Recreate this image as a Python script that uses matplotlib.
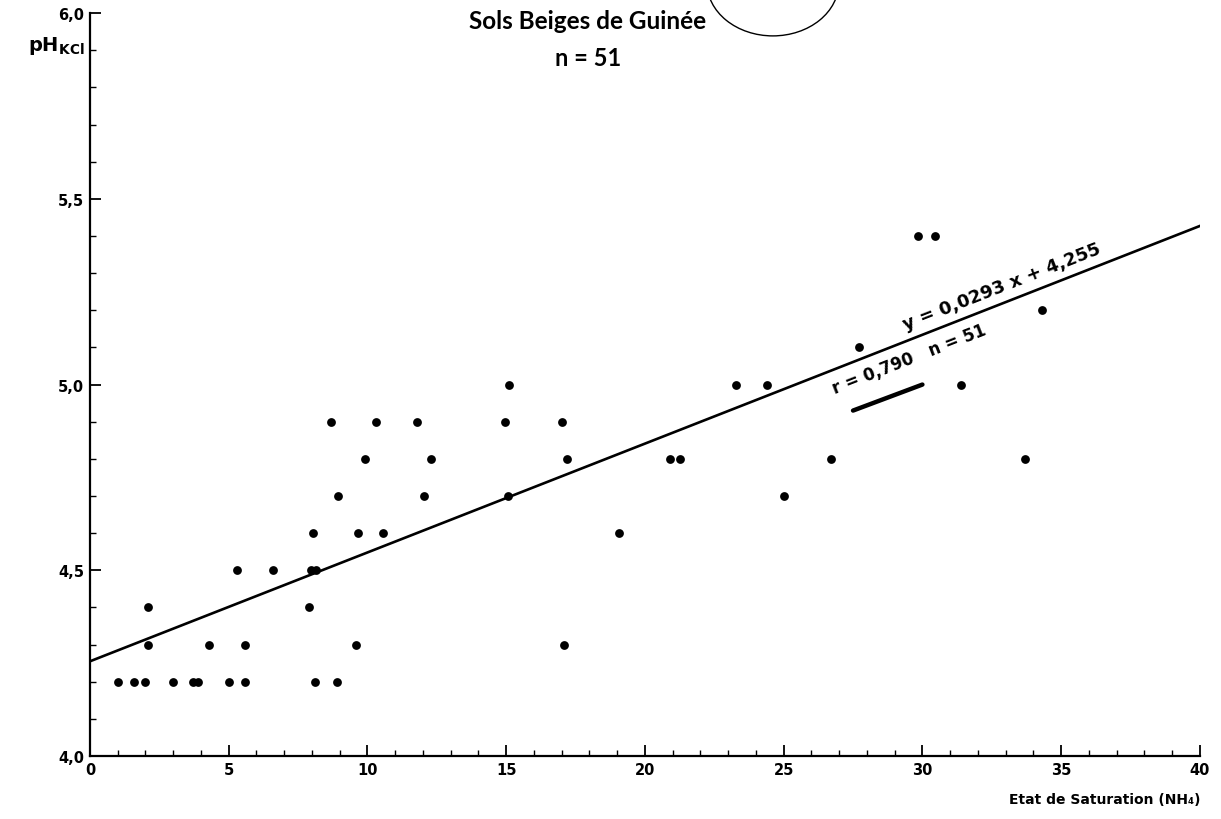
import math

import numpy as np
import matplotlib
matplotlib.use('Agg')
import matplotlib.pyplot as plt
from matplotlib.patches import Ellipse
from matplotlib.ticker import MultipleLocator, FuncFormatter

plt.rcParams['font.family'] = ['DejaVu Sans']

# Etat de saturation (NH4) et pH KCl
x_sat = [1.0, 1.6, 2.0, 3.0, 3.7, 3.9, 5.0, 5.6, 8.1, 8.9,
         2.1, 4.3, 5.6, 9.6, 17.1,
         2.1, 7.9,
         5.3, 6.6, 7.95, 8.15,
         8.05, 9.65, 10.55, 19.05,
         8.95, 12.05, 15.05, 25.0,
         9.9, 12.3, 17.2, 20.9, 21.25, 26.7, 33.7,
         8.7, 10.3, 11.8, 14.95, 17.0,
         15.1, 23.3, 24.4, 31.4,
         27.7,
         34.3,
         29.85, 30.45]
ph_kcl = [4.2] * 10 + [4.3] * 5 + [4.4] * 2 + [4.5] * 4 + [4.6] * 4 + \
         [4.7] * 4 + [4.8] * 7 + [4.9] * 5 + [5.0] * 4 + [5.1] + [5.2] + [5.4] * 2

# droite de regression
pente = 0.0293
origine = 4.255
r_coef = '0,790'
n_obs = 51

fig = plt.figure(figsize=(12.21, 8.2), dpi=100)
ax = fig.add_axes([0.0737, 0.0768, 0.909, 0.906])

ax.scatter(x_sat, ph_kcl, s=40, c='black', zorder=3, linewidths=0)

x_reg = np.array([0, 40])
ax.plot(x_reg, pente * x_reg + origine, color='black', lw=1.9, zorder=2)

ax.set_xlim(0, 40)
ax.set_ylim(4.0, 6.0)
for s in ['top', 'right']:
    ax.spines[s].set_visible(False)
for s in ['left', 'bottom']:
    ax.spines[s].set_linewidth(1.6)

ax.xaxis.set_major_locator(MultipleLocator(5))
ax.xaxis.set_minor_locator(MultipleLocator(1))
ax.yaxis.set_major_locator(MultipleLocator(0.5))
ax.yaxis.set_minor_locator(MultipleLocator(0.1))
ax.yaxis.set_major_formatter(FuncFormatter(lambda v, p: f'{v:.1f}'.replace('.', ',')))
ax.xaxis.set_major_formatter(FuncFormatter(lambda v, p: f'{v:.0f}'))
ax.tick_params(which='major', direction='in', length=8, width=1.3,
               labelsize=10.5, pad=4)
ax.tick_params(which='minor', direction='in', length=4, width=1.0)
for lab in ax.get_xticklabels() + ax.get_yticklabels():
    lab.set_fontweight('bold')

# textes
fig.text(0.4816, 0.974, 'Sols Beiges de Guinée', ha='center', va='center',
         fontsize=17.5, fontweight='bold', family=['Lato', 'DejaVu Sans'])
fig.text(0.4816, 0.929, f'n = {n_obs}', ha='center', va='center',
         fontsize=17, fontweight='bold', family=['Lato', 'DejaVu Sans'])
fig.text(0.023, 0.944, r'pH$_{\mathregular{KCl}}$', ha='left', va='center',
         fontsize=14, fontweight='bold')
fig.text(0.983, 0.024, 'Etat de Saturation (NH₄)', ha='right', va='center',
         fontsize=10, fontweight='bold')

# angle de la droite a l'ecran
fig.canvas.draw()
p1 = ax.transData.transform((0, origine))
p2 = ax.transData.transform((40, pente * 40 + origine))
angle = math.degrees(math.atan2(p2[1] - p1[1], p2[0] - p1[0]))

xe = 33.0
ax.text(xe, pente * xe + origine + 0.02, 'y = 0,0293 x + 4,255',
        rotation=angle, rotation_mode='anchor', ha='center', va='bottom',
        fontsize=13, fontweight='bold')
xr = 29.4
ax.text(xr, pente * xr + origine - 0.025, f'r = {r_coef}   n = {n_obs}',
        rotation=angle, rotation_mode='anchor', ha='center', va='top',
        fontsize=12, fontweight='bold')
# trait souligne a la main
ax.plot([27.5, 30.0], [4.93, 5.0], color='black', lw=3.2, solid_capstyle='round')

# trace a la main en haut
fig.patches.append(Ellipse((0.633, 1.02), 0.108, 0.13, transform=fig.transFigure,
                           fill=False, lw=1.0, color='black'))

fig.savefig('out.png', dpi=100)
